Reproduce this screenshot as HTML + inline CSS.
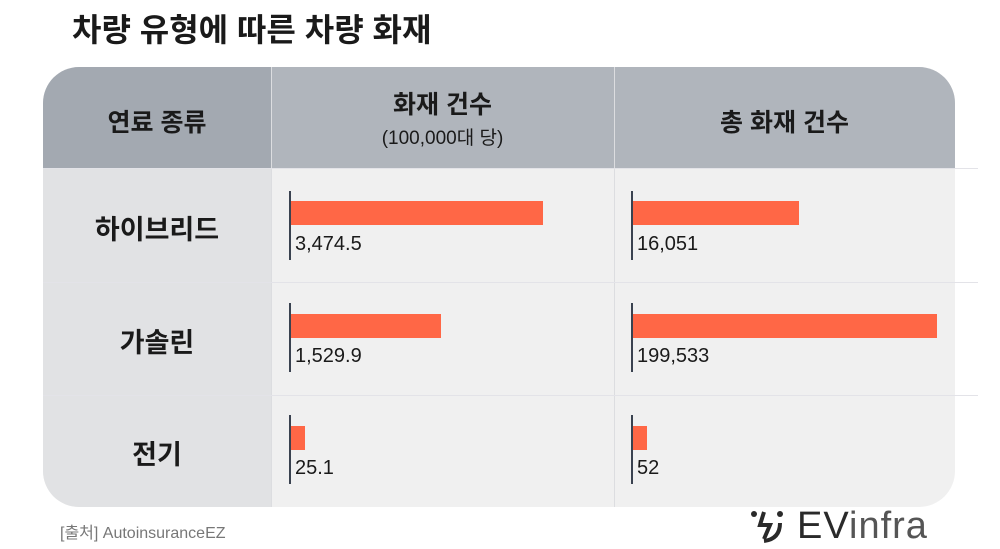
<!DOCTYPE html>
<html><head><meta charset="utf-8"><style>
body{margin:0;width:1000px;height:549px;background:#fff;position:relative;overflow:hidden;font-family:"Liberation Sans","Noto Sans CJK KR",sans-serif;color:#1a1a1a}
.a{position:absolute}
.t{font-weight:bold}
.ax{position:absolute;width:2px;background:#3a4250;height:69px}
.bar{position:absolute;height:24px;background:#ff6746}
.v{position:absolute;font-size:20px;color:#1a1a1a}
.rl{position:absolute;left:43px;width:228px;text-align:center;font-size:27px;font-weight:bold}
.hl{position:absolute;height:1px;background:#e3e3e8;left:43px;width:935px}
</style></head><body>
<div class="a t" style="left:72px;top:5px;font-size:32px;">차량 유형에 따른 차량 화재</div>
<div class="a" style="left:43px;top:67px;width:912px;height:440px;border-radius:36px;overflow:hidden;background:#f0f0f0">
 <div class="a" style="left:0;top:0;width:228px;height:101px;background:#a3a9b1"></div>
 <div class="a" style="left:228px;top:0;width:684px;height:101px;background:#b0b5bc"></div>
 <div class="a" style="left:0;top:101px;width:228px;height:339px;background:#e1e2e4"></div>
 <div class="a" style="left:228px;top:0;width:1px;height:440px;background:#dcdde0"></div>
 <div class="a" style="left:571px;top:0;width:1px;height:440px;background:#dcdde0"></div>
</div>
<div class="hl" style="top:168px"></div><div class="hl" style="top:282px"></div><div class="hl" style="top:395px"></div>
<div class="a t" style="left:43px;width:228px;top:103px;text-align:center;font-size:25px">연료 종류</div>
<div class="a t" style="left:271px;width:343px;top:85px;text-align:center;font-size:25px">화재 건수</div>
<div class="a" style="left:271px;width:343px;top:123px;text-align:center;font-size:19px">(100,000대 당)</div>
<div class="a t" style="left:614px;width:341px;top:103px;text-align:center;font-size:25px">총 화재 건수</div>
<div class="rl" style="top:208px">하이브리드</div>
<div class="rl" style="top:321px">가솔린</div>
<div class="rl" style="top:433px">전기</div>

<div class="ax" style="left:289px;top:191px"></div><div class="bar" style="left:291px;top:201px;width:252px"></div><div class="v" style="left:295px;top:233px">3,474.5</div>
<div class="ax" style="left:289px;top:303px"></div><div class="bar" style="left:291px;top:314px;width:150px"></div><div class="v" style="left:295px;top:345px">1,529.9</div>
<div class="ax" style="left:289px;top:415px"></div><div class="bar" style="left:291px;top:426px;width:14px"></div><div class="v" style="left:295px;top:457px">25.1</div>

<div class="ax" style="left:631px;top:191px"></div><div class="bar" style="left:633px;top:201px;width:166px"></div><div class="v" style="left:637px;top:233px">16,051</div>
<div class="ax" style="left:631px;top:303px"></div><div class="bar" style="left:633px;top:314px;width:304px"></div><div class="v" style="left:637px;top:345px">199,533</div>
<div class="ax" style="left:631px;top:415px"></div><div class="bar" style="left:633px;top:426px;width:14px"></div><div class="v" style="left:637px;top:457px">52</div>

<div class="a" style="left:60px;top:519px;font-size:16px;color:#777">[출처] AutoinsuranceEZ</div>
<svg class="a" style="left:750px;top:509px" width="36" height="36" viewBox="0 0 36 36"><circle cx="4" cy="5" r="3" fill="#2a2a2a"/><circle cx="30" cy="5" r="3" fill="#2a2a2a"/><path d="M14 3 L10 16 L20 16 L14 30" stroke="#2a2a2a" stroke-width="4" fill="none"/><path d="M30 14 Q30 30 14 32" stroke="#2a2a2a" stroke-width="4" fill="none"/></svg>
<div class="a" style="left:797px;top:505px;font-size:38px;color:#2a2a2a;letter-spacing:1px">EV<span style="color:#555">infra</span></div>
</body></html>
